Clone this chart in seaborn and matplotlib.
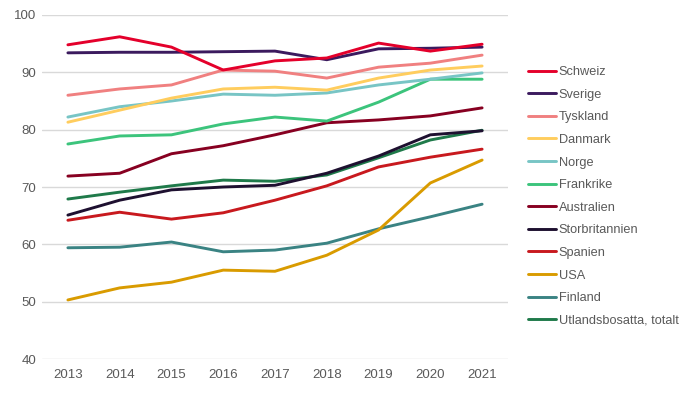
import pandas as pd
import matplotlib.pyplot as plt
import seaborn as sns

# Data
years = [2013, 2014, 2015, 2016, 2017, 2018, 2019, 2020, 2021]
schweiz = [94.8, 96.2, 94.4, 90.4, 92.0, 92.5, 95.1, 93.7, 94.9]
sverige = [93.4, 93.5, 93.5, 93.6, 93.7, 92.2, 94.1, 94.2, 94.4]
tyskland = [86.0, 87.1, 87.8, 90.4, 90.2, 89.0, 90.9, 91.6, 93.0]
danmark = [81.3, 83.4, 85.5, 87.1, 87.4, 86.9, 89.0, 90.4, 91.1]
norge = [82.2, 84.0, 85.0, 86.2, 86.0, 86.4, 87.8, 88.8, 89.9]
frankrike = [77.5, 78.9, 79.1, 81.0, 82.2, 81.5, 84.8, 88.8, 88.8]
australien = [71.9, 72.4, 75.8, 77.2, 79.1, 81.2, 81.7, 82.4, 83.8]
storbritannien = [65.1, 67.7, 69.5, 70.0, 70.3, 72.4, 75.4, 79.1, 79.8]
spanien = [64.2, 65.6, 64.4, 65.5, 67.7, 70.2, 73.5, 75.2, 76.6]
usa = [50.3, 52.4, 53.4, 55.5, 55.3, 58.1, 62.5, 70.7, 74.7]
finland = [59.4, 59.5, 60.4, 58.7, 59.0, 60.2, 62.7, 64.8, 67.0]
totalt = [67.9, 69.1, 70.2, 71.2, 71.0, 72.1, 75.1, 78.2, 79.9]

serier = {
    "Schweiz": schweiz,
    "Sverige": sverige,
    "Tyskland": tyskland,
    "Danmark": danmark,
    "Norge": norge,
    "Frankrike": frankrike,
    "Australien": australien,
    "Storbritannien": storbritannien,
    "Spanien": spanien,
    "USA": usa,
    "Finland": finland,
    "Utlandsbosatta, totalt": totalt,
}
farger = {
    "Schweiz": "#E4002B",
    "Sverige": "#3B1A5E",
    "Tyskland": "#F08080",
    "Danmark": "#FFCD5E",
    "Norge": "#78C5C5",
    "Frankrike": "#3CC47C",
    "Australien": "#870021",
    "Storbritannien": "#1E1030",
    "Spanien": "#C8191E",
    "USA": "#D99B00",
    "Finland": "#3A8383",
    "Utlandsbosatta, totalt": "#1F7A4A",
}

rows = []
for namn, vals in serier.items():
    for ar, v in zip(years, vals):
        rows.append({"Ar": ar, "Varde": v, "Land": namn})
df = pd.DataFrame(rows)

sns.set_style("white")
plt.rcParams['font.family'] = ['Liberation Sans', 'DejaVu Sans']

fig = plt.figure(figsize=(6.91, 3.95), dpi=100)
ax = fig.add_axes([42 / 691, 1 - 359 / 395, (508 - 42) / 691, (359 - 15) / 395])

# rita i omvänd ordning så att första serien hamnar överst
ordning = list(serier.keys())
for namn in ordning[::-1]:
    sns.lineplot(data=df[df["Land"] == namn], x="Ar", y="Varde", color=farger[namn],
                 linewidth=2.1, ax=ax, legend=False)

ax.set_ylim(40, 100)
ax.set_yticks(range(40, 101, 10))
ax.set_xlim(2012.5, 2021.5)
ax.set_xticks(years)
ax.set_xlabel("")
ax.set_ylabel("")
ax.grid(axis="y", color="#D9D9D9", linewidth=1)
ax.set_axisbelow(True)
for s in ax.spines.values():
    s.set_visible(False)
ax.tick_params(axis="both", length=0, labelsize=9.5, colors="#595959")
ax.tick_params(axis="y", pad=4)
ax.tick_params(axis="x", pad=7)

handles = [plt.Line2D([], [], color=farger[n], linewidth=2.1) for n in ordning]
leg = fig.legend(handles, ordning, loc="upper left", bbox_to_anchor=(523 / 691, 1 - 61 / 395),
                 frameon=False, fontsize=9.2, handlelength=2.2, handletextpad=0.2,
                 labelspacing=0.83, borderaxespad=0)
for t in leg.get_texts():
    t.set_color("#595959")

plt.savefig("out.png", dpi=100)
